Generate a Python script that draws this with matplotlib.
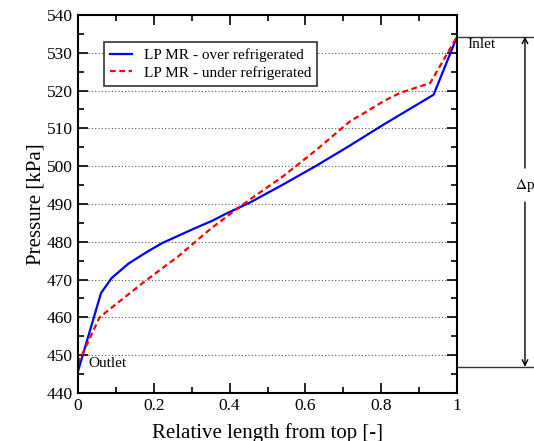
import matplotlib
matplotlib.use('Agg')
import matplotlib.pyplot as plt
import numpy as np

plt.rcParams['font.family'] = ['Liberation Serif', 'DejaVu Serif']
plt.rcParams['mathtext.fontset'] = 'stix'

# data
x_over = [0.0, 0.0607, 0.0888, 0.133, 0.177, 0.221, 0.265, 0.309, 0.353, 0.388, 0.454,
          0.542, 0.63, 0.718, 0.806, 0.938, 1.0]
p_over = [445.7, 466.4, 470.4, 474.2, 477.0, 479.6, 481.6, 483.6, 485.5, 487.3, 490.4,
          495.2, 500.2, 505.5, 511.0, 518.9, 534.3]
x_under = [0.0, 0.057, 0.088, 0.176, 0.264, 0.352, 0.422, 0.454, 0.542, 0.63, 0.718,
           0.762, 0.806, 0.85, 0.929, 1.0]
p_under = [447.8, 460.0, 462.5, 469.5, 476.1, 483.6, 488.9, 491.2, 497.4, 504.4, 511.9,
           514.5, 517.2, 519.4, 522.0, 534.3]

p_inlet = 534.3
p_outlet = 446.9

fig = plt.figure(figsize=(5.34, 4.41), dpi=100)
ax = fig.add_axes([0.146, 0.109, 0.71, 0.857])

for yy in range(450, 540, 10):
    ax.axhline(yy, color='#555555', ls=(0, (1, 2)), lw=0.8, zorder=0)

ax.plot(x_over, p_over, color='#0000ff', lw=1.6, label='LP MR - over refrigerated')
ax.plot(x_under, p_under, color='#ff0000', lw=1.6, ls=(0, (2.6, 1.6)), label='LP MR - under refrigerated')

ax.set_xlim(0, 1)
ax.set_ylim(440, 540)
ax.set_xticks([0, 0.2, 0.4, 0.6, 0.8, 1])
ax.set_xticklabels(['0', '0.2', '0.4', '0.6', '0.8', '1'])
ax.set_xticks(np.arange(0.1, 1, 0.2), minor=True)
ax.set_yticks(np.arange(440, 541, 10))
ax.set_yticks(np.arange(445, 540, 10), minor=True)
ax.tick_params(which='both', direction='in', top=True, right=True, labelsize=12.5, width=1.2)
ax.tick_params(which='major', length=7)
ax.tick_params(which='minor', length=4)
for s in ax.spines.values():
    s.set_linewidth(1.5)

ax.set_xlabel('Relative length from top [-]', fontsize=15, labelpad=7)
ax.set_ylabel('Pressure [kPa]', fontsize=15, labelpad=1)

leg = ax.legend(loc='upper left', bbox_to_anchor=(0.0686, 0.928), borderaxespad=0,
                fontsize=11, fancybox=False, framealpha=1, edgecolor='#333333',
                handlelength=1.45, handletextpad=0.75, borderpad=0.4, labelspacing=0.25)
leg.get_frame().set_linewidth(1.2)

# inlet / outlet markers outside the axes
ax.plot([1, 1.21], [p_inlet, p_inlet], color='#333333', lw=1, clip_on=False)
ax.plot([1, 1.21], [p_outlet, p_outlet], color='#333333', lw=1, clip_on=False)
ax.text(1.027, 532.3, 'Inlet', fontsize=11, va='center', ha='left')
ax.text(0.028, 447.7, 'Outlet', fontsize=11, va='center', ha='left')

xa = 1.179
ax.text(xa, 495, r'$\Delta$p', fontsize=11, ha='center', va='center')
ax.annotate('', xy=(xa, p_inlet), xytext=(xa, 499.5), annotation_clip=False,
            arrowprops=dict(arrowstyle='->', color='black', lw=1, shrinkA=0, shrinkB=0))
ax.annotate('', xy=(xa, p_outlet), xytext=(xa, 490.5), annotation_clip=False,
            arrowprops=dict(arrowstyle='->', color='black', lw=1, shrinkA=0, shrinkB=0))

plt.savefig('out.png', dpi=100)
